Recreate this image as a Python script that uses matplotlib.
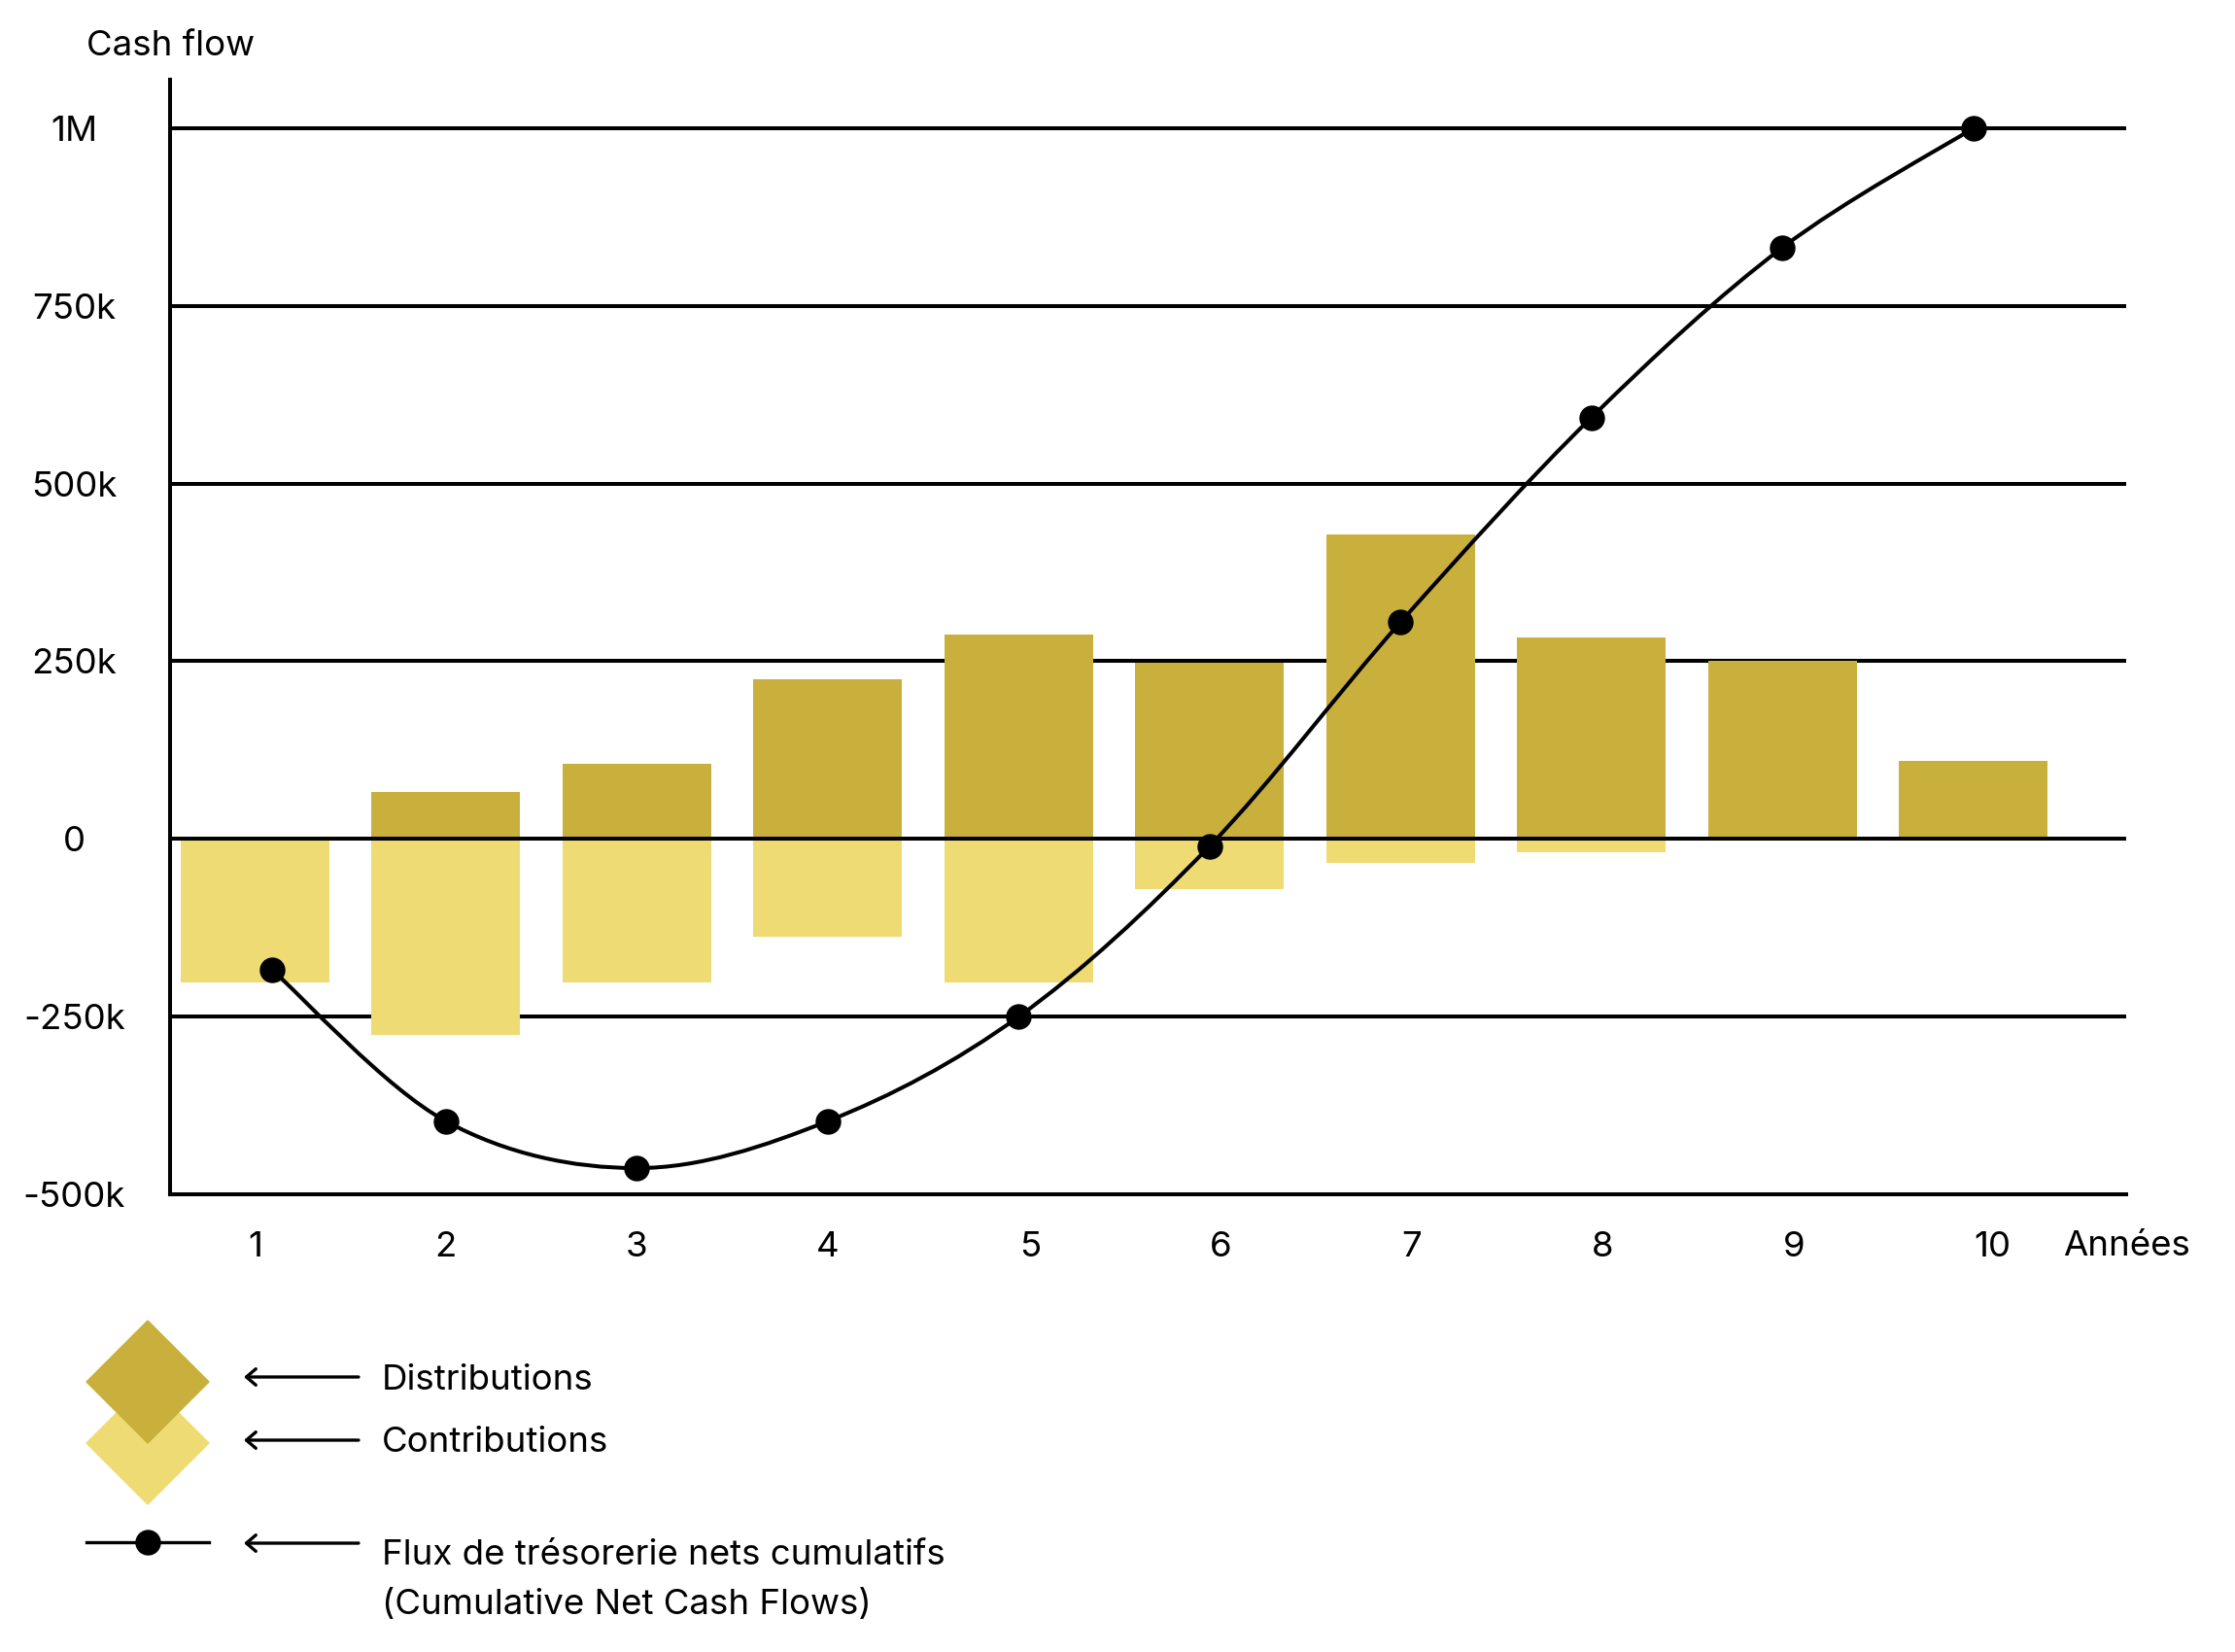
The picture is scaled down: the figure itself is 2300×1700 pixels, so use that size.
import numpy as np
import matplotlib
matplotlib.use("Agg")
import matplotlib.pyplot as plt
from matplotlib.path import Path
from matplotlib.patches import PathPatch, Polygon

plt.rcParams['font.family'] = ['Inter', 'DejaVu Sans']

# --- data ---
years = [1, 2, 3, 4, 5, 6, 7, 8, 9, 10]
distributions = [0, 66000, 106000, 224000, 287000, 248000, 429000, 283000, 250000, 110000]
contributions = [-202000, -275000, -202000, -138000, -202000, -70000, -34000, -18000, 0, 0]
cum_x = [1.09, 2, 3, 4, 5, 6, 7, 8, 9, 10]
cumulative = [-184000, -397000, -463000, -397000, -250000, -10000, 305000, 593000, 832000, 1000000]
y_ticks = [-500000, -250000, 0, 250000, 500000, 750000, 1000000]
y_labels = ["-500k", "-250k", "0", "250k", "500k", "750k", "1M"]
x_label_pos = [1, 2, 3, 4, 5.06, 6.06, 7.06, 8.06, 9.06, 10.1]
x_labels = ["1", "2", "3", "4", "5", "6", "7", "8", "9", "10"]

dark = "#C9B03C"
light = "#EFDB73"
lw = 2.9
fs = 26.4

fig = plt.figure(figsize=(23, 17), dpi=100)
ax = fig.add_axes([0.0761, 0.277, 0.8752, 0.6747])

ax.bar(years, distributions, width=0.78, color=dark, zorder=2)
ax.bar(years, contributions, width=0.78, color=light, zorder=2)

# gridlines behind bars, zero line on top
for v in y_ticks[1:]:
    ax.axhline(v, color="black", lw=lw, zorder=1 if v != 0 else 3)

# smooth curve (Catmull-Rom as cubic Bezier) through the cumulative points
pts = np.column_stack([cum_x, cumulative]).astype(float)
ext = np.vstack([pts[0], pts, pts[-1]])
verts = [tuple(pts[0])]
codes = [Path.MOVETO]
for i in range(1, len(ext) - 2):
    p0, p1, p2, p3 = ext[i - 1], ext[i], ext[i + 1], ext[i + 2]
    c1 = p1 + (p2 - p0) / 6
    c2 = p2 - (p3 - p1) / 6
    verts += [tuple(c1), tuple(c2), tuple(p2)]
    codes += [Path.CURVE4] * 3
ax.add_patch(PathPatch(Path(verts, codes), fill=False, lw=lw, color="black", zorder=4))
ax.plot(cum_x, cumulative, "o", color="black", ms=18, zorder=5)

ax.set_xlim(0.556, 10.80)
ax.set_ylim(-500000, 1068000)
for s in ["top", "right"]:
    ax.spines[s].set_visible(False)
for s in ["left", "bottom"]:
    ax.spines[s].set_linewidth(lw)
ax.set_yticks(y_ticks, y_labels)
ax.set_xticks(x_label_pos, x_labels)
ax.tick_params(axis="y", length=0, pad=71, labelsize=fs)
ax.tick_params(axis="x", length=0, pad=39, labelsize=fs)
for t in ax.get_yticklabels():
    t.set_ha("center")
for t in ax.get_xticklabels():
    t.set_va("center")

# overlay in pixel coords for titles and legend
ov = fig.add_axes([0, 0, 1, 1], zorder=10)
ov.set_xlim(0, 2300)
ov.set_ylim(1700, 0)
ov.axis("off")
ov.text(89, 47, "Cash flow", fontsize=fs, ha="left", va="center")
ov.text(2123, 1283, "Années", fontsize=fs, ha="left", va="center")

ov.add_patch(Polygon([(152, 1422), (215, 1485), (152, 1548), (89, 1485)], color=light))
ov.add_patch(Polygon([(152, 1359), (215, 1422), (152, 1485), (89, 1422)], color=dark))
ov.plot([89, 215], [1587, 1587], color="black", lw=2.4)
ov.plot([152], [1587], "o", color="black", ms=18)

for y in [1417, 1482, 1588]:
    ov.annotate("", xy=(251, y), xytext=(369, y),
                arrowprops=dict(arrowstyle="->, head_length=0.35, head_width=0.3",
                                lw=2.4, color="black", mutation_scale=20,
                                shrinkA=0, shrinkB=0))
ov.text(393, 1420, "Distributions", fontsize=fs, va="center")
ov.text(393, 1485, "Contributions", fontsize=fs, va="center")
ov.text(393, 1600, "Flux de trésorerie nets cumulatifs", fontsize=fs, va="center")
ov.text(393, 1651, "(Cumulative Net Cash Flows)", fontsize=fs, va="center")

fig.savefig("out.png", dpi=100)
